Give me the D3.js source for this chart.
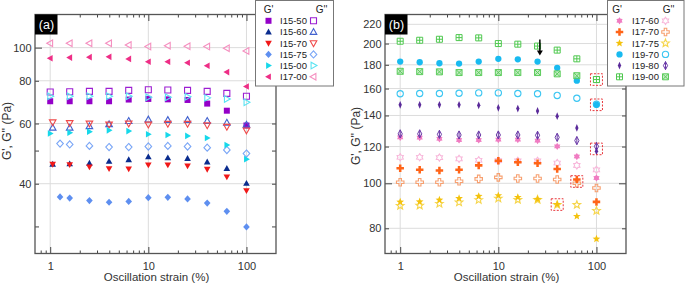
<!DOCTYPE html>
<html>
<head>
<meta charset="utf-8">
<script src="https://cdn.jsdelivr.net/npm/d3@7"></script>
<style>
  body { margin: 0; background: #fff; }
  svg { display: block; }
</style>
</head>
<body>
<div id="chart"></div>
<script>
"use strict";

// strain steps (%), 5 per decade
const strain = [1, 1.58, 2.51, 3.98, 6.31, 10, 15.8, 25.1, 39.8, 63.1, 100];
const strainI15_6070 = [1.06, 1.58, 2.51, 3.98, 6.31, 10, 15.8, 25.1, 39.8, 63.1, 100];
const strainI15_75 = [1.26, 1.58, 2.51, 3.98, 6.31, 10, 15.8, 25.1, 39.8, 63.1, 100];

// panel (a) moduli, Pa
const i15_50_G1 = [69.7, 69.7, 69.7, 69.7, 70.5, 70.8, 70.6, 70.3, 68.6, 65.4, 59.2];
const i15_50_G2 = [74.2, 74.3, 74.5, 74.5, 75.0, 75.3, 75.2, 75.0, 74.5, 73.5, 72.1];
const i15_60_G1 = [45.6, 45.7, 45.9, 46.5, 47.0, 47.9, 47.6, 47.4, 46.3, 44.3, 40.1];
const i15_60_G2 = [58.3, 58.3, 58.9, 59.7, 61.0, 61.6, 61.4, 61.4, 61.0, 60.3, 59.5];
const i15_70_G1 = [45.6, 45.5, 44.8, 44.3, 44.2, 45.4, 45.4, 45.1, 44.1, 41.9, 38.2];
const i15_70_G2 = [60.5, 60.2, 60.0, 59.6, 60.0, 59.6, 59.9, 59.9, 59.3, 58.7, 57.3];
const i15_75_G1 = [36.6, 36.3, 35.7, 35.3, 35.5, 36.4, 36.5, 36.1, 35.1, 33.2, 29.9];
const i15_75_G2 = [52.4, 52.1, 51.6, 51.2, 51.2, 51.4, 51.6, 51.4, 51.0, 50.2, 49.0];
const i15_00_G1 = [56.1, 56.4, 56.8, 57.3, 57.0, 55.8, 55.5, 55.2, 54.4, 51.9, 47.2];
const i15_00_G2 = [72.1, 72.1, 72.1, 72.1, 72.1, 71.6, 71.6, 71.8, 71.3, 70.8, 69.2];
const i17_00_G1 = [93.1, 93.5, 93.8, 94.0, 92.7, 90.9, 90.9, 90.3, 88.5, 84.8, 77.0];
const i17_00_G2 = [103, 103, 103, 103, 101.8, 100.7, 101.3, 100.9, 100.7, 99.6, 97.8];

// panel (b) moduli, Pa
const i17_60_G1 = [125.6, 125.4, 124.7, 124.0, 124.0, 124.2, 124.2, 123.6, 120.1, 114.2, 102.7];
const i17_60_G2 = [113.8, 113.8, 113.6, 112.9, 112.1, 111.9, 111.8, 111.8, 110.6, 109.3, 106.9];
const i17_70_G1 = [107.7, 107.0, 106.5, 107.0, 109.3, 111.9, 111.0, 110.4, 107.4, 101.9, 91.2];
const i17_70_G2 = [100.5, 100.5, 100.5, 101.0, 102.2, 103.0, 102.4, 102.4, 101.9, 100.0, 97.7];
const i17_75_G1 = [91.2, 91.3, 92.1, 92.8, 93.8, 94.1, 93.3, 92.4, 90.1, 84.9, 75.9];
const i17_75_G2 = [89.5, 89.6, 90.4, 91.0, 92.1, 92.8, 92.2, 92.2, 89.9, 89.9, 87.3];
const i19_70_G1 = [182.9, 182.3, 181.4, 181.1, 182.9, 185.4, 185.0, 182.9, 177.3, 166.4, 147.6];
const i19_70_G2 = [155.9, 156.1, 156.1, 156.3, 156.6, 156.6, 156.1, 155.9, 154.6, 152.5, 148.0];
const i19_80_G1 = [147.6, 147.6, 147.6, 147.6, 147.2, 145.4, 144.9, 143.2, 139.5, 131.6, 117.2];
const i19_80_G2 = [127.8, 127.8, 127.5, 127.1, 127.1, 127.1, 127.1, 126.9, 125.6, 123.6, 120.1];
const i19_00_G1 = [202.3, 203.3, 204.3, 206.0, 205.7, 200.0, 199.4, 197.5, 193.6, 185.4, 167.3];
const i19_00_G2 = [174.3, 174.0, 173.8, 173.2, 173.2, 173.2, 173.2, 173.2, 172.1, 170.5, 167.3];

// axis ticks
const xLabelTicks = [1, 10, 100];
const xMinorTicks = [0.8, 0.9, 2, 3, 4, 5, 6, 7, 8, 9, 20, 30, 40, 50, 60, 70, 80, 90];
const yLabelsA = [40, 60, 80, 100];
const yMinorA = [30, 40, 50, 60, 80];
const yMajorA = [100];
const yLabelsB = [80, 100, 120, 140, 160, 180, 200, 220];
const yMinorB = [80, 120, 140, 160, 180, 200, 220];
const yMajorB = [100];

// red dashed boxes in (b): [strain, modulus]
const highlightStrain = [100, 100, 100, 63.1, 39.8];
const highlightValue = [167.3, 147.6, 118.6, 100.9, 90.0];
// arrow in (b)
const arrowStrain = 26.5;
const arrowFrom = 204;
const arrowTo = 188.5;

const FONT = "'Liberation Sans', Arial, Helvetica, sans-serif";
const W = 685, H = 284;

const seriesA = [
  { name: "I15-50", x: strain, g1: i15_50_G1, g2: i15_50_G2, s1: "square", s2: "square", c1: "#9400c8", c2: "#9c1ed2" },
  { name: "I15-60", x: strainI15_6070, g1: i15_60_G1, g2: i15_60_G2, s1: "triUp", s2: "triUp", c1: "#0a2c8e", c2: "#4262cf" },
  { name: "I15-70", x: strainI15_6070, g1: i15_70_G1, g2: i15_70_G2, s1: "triDown", s2: "triDown", c1: "#f01818", c2: "#f04a4a" },
  { name: "I15-75", x: strainI15_75, g1: i15_75_G1, g2: i15_75_G2, s1: "diamond", s2: "diamond", c1: "#5e8ff0", c2: "#7aa6f6" },
  { name: "I15-00", x: strain, g1: i15_00_G1, g2: i15_00_G2, s1: "triRight", s2: "triRight", c1: "#16d8ea", c2: "#5ae3f2" },
  { name: "I17-00", x: strain, g1: i17_00_G1, g2: i17_00_G2, s1: "triLeft", s2: "triLeft", c1: "#ee2e86", c2: "#f590c0" },
];

const seriesB = [
  { name: "I17-60", x: strain, g1: i17_60_G1, g2: i17_60_G2, s1: "hexagram", s2: "hexagram", c1: "#f07cc2", c2: "#f8b6da" },
  { name: "I17-70", x: strain, g1: i17_70_G1, g2: i17_70_G2, s1: "plus", s2: "plus", c1: "#ff6418", c2: "#f7a070" },
  { name: "I17-75", x: strain, g1: i17_75_G1, g2: i17_75_G2, s1: "star", s2: "star", c1: "#f4c20d", c2: "#f6d54a" },
  { name: "I19-70", x: strain, g1: i19_70_G1, g2: i19_70_G2, s1: "circle", s2: "circle", c1: "#18baf0", c2: "#3cc6f2" },
  { name: "I19-80", x: strain, g1: i19_80_G1, g2: i19_80_G2, s1: "thinDiamond", s2: "thinDiamondLine", c1: "#5a2a9a", c2: "#6a3aa8" },
  { name: "I19-00", x: strain, g1: i19_00_G1, g2: i19_00_G2, s1: "boxPlus", s2: "boxCross", c1: "#4fc84f", c2: "#5ccc5c" },
];

function poly(points) {
  return "M" + points.map((p) => `${p[0].toFixed(2)},${p[1].toFixed(2)}`).join("L") + "Z";
}

function starPoints(n, outer, inner, rot) {
  const pts = [];
  for (let i = 0; i < n * 2; i++) {
    const r = i % 2 === 0 ? outer : inner;
    const a = rot + (Math.PI * i) / n;
    pts.push([r * Math.sin(a), -r * Math.cos(a)]);
  }
  return pts;
}

function markerPath(shape, r) {
  switch (shape) {
    case "square":
      return `M${-r},${-r}H${r}V${r}H${-r}Z`;
    case "triUp":
      return poly([[0, -r * 1.15], [r * 1.1, r * 0.8], [-r * 1.1, r * 0.8]]);
    case "triDown":
      return poly([[0, r * 1.15], [r * 1.1, -r * 0.8], [-r * 1.1, -r * 0.8]]);
    case "triLeft":
      return poly([[-r * 1.15, 0], [r * 0.8, -r * 1.1], [r * 0.8, r * 1.1]]);
    case "triRight":
      return poly([[r * 1.15, 0], [-r * 0.8, -r * 1.1], [-r * 0.8, r * 1.1]]);
    case "diamond":
      return poly([[0, -r * 1.2], [r * 1.1, 0], [0, r * 1.2], [-r * 1.1, 0]]);
    case "circle":
      return d3.symbol(d3.symbolCircle, Math.PI * r * r * 1.1)();
    case "plus": {
      const a = r * 0.42, b = r * 1.25;
      return poly([[-a, -b], [a, -b], [a, -a], [b, -a], [b, a], [a, a], [a, b], [-a, b], [-a, a], [-b, a], [-b, -a], [-a, -a]]);
    }
    case "star":
      return poly(starPoints(5, r * 1.35, r * 0.58, 0));
    case "hexagram":
      return poly(starPoints(6, r * 1.2, r * 0.75, 0));
    case "thinDiamond":
      return poly([[0, -r * 1.3], [r * 0.55, 0], [0, r * 1.3], [-r * 0.55, 0]]);
    case "thinDiamondLine":
      return poly([[0, -r * 1.35], [r * 0.7, 0], [0, r * 1.35], [-r * 0.7, 0]]) + `M0,${-r * 1.35}V${r * 1.35}`;
    case "boxPlus":
      return `M${-r},${-r}H${r}V${r}H${-r}Z M0,${-r}V${r} M${-r},0H${r}`;
    case "boxCross":
      return `M${-r},${-r}H${r}V${r}H${-r}Z M${-r},${-r}L${r},${r} M${r},${-r}L${-r},${r}`;
    default:
      return "";
  }
}

// filled markers for G', open markers for G''
function styleMarker(sel, shape, color, filled) {
  if (filled) {
    if (shape === "boxPlus") {
      sel.attr("fill", "#fff").attr("stroke", color).attr("stroke-width", 1);
    } else {
      sel.attr("fill", color).attr("stroke", "none");
    }
  } else if (shape === "boxCross") {
    sel.attr("fill", "rgba(92,204,92,0.35)").attr("stroke", color).attr("stroke-width", 1);
  } else if (shape === "thinDiamondLine") {
    sel.attr("fill", "none").attr("stroke", color).attr("stroke-width", 1);
  } else {
    sel.attr("fill", "none").attr("stroke", color).attr("stroke-width", 1.1);
  }
  return sel;
}

const svg = d3
  .select("#chart")
  .append("svg")
  .attr("width", W)
  .attr("height", H)
  .attr("viewBox", `0 0 ${W} ${H}`)
  .style("font-family", FONT);

const panels = [
  {
    tag: "(a)", left: 35, right: 276, yDomain: [25, 125], series: seriesA,
    yLabels: yLabelsA, yMinor: yMinorA, yMajor: yMajorA,
    titleX: 7, titleY: 131, legendX: 255.5, legendW: 78,
    legendCols: [268.5, 280, 313.5], headerCols: [268.5, 321.5],
  },
  {
    tag: "(b)", left: 385, right: 626, yDomain: [70.6, 231], series: seriesB,
    yLabels: yLabelsB, yMinor: yMinorB, yMajor: yMajorB,
    titleX: 356, titleY: 136, legendX: 607.5, legendW: 76.5,
    legendCols: [619.5, 632, 665.5], headerCols: [617, 668.5],
  },
];

const TOP = 14.5, BOTTOM = 253.5;

panels.forEach((p, pi) => {
  const x = d3.scaleLog().domain([0.7, 200]).range([p.left, p.right]);
  const y = d3.scaleLog().domain(p.yDomain).range([BOTTOM, TOP]);
  const g = svg.append("g");

  // grid
  g.append("g")
    .selectAll("line")
    .data(xLabelTicks)
    .join("line")
    .attr("x1", (d) => x(d))
    .attr("x2", (d) => x(d))
    .attr("y1", TOP)
    .attr("y2", BOTTOM)
    .attr("stroke", "#dcdcdc")
    .attr("stroke-width", 1);
  g.append("g")
    .selectAll("line")
    .data(p.yLabels)
    .join("line")
    .attr("x1", p.left)
    .attr("x2", p.right)
    .attr("y1", (d) => y(d))
    .attr("y2", (d) => y(d))
    .attr("stroke", "#dcdcdc")
    .attr("stroke-width", 1);

  const tickStyle = (sel) => {
    sel.select(".domain").remove();
    sel.selectAll(".tick line").attr("stroke", "#444").attr("stroke-width", 1);
  };

  // x ticks, bottom and top, pointing inward
  [["axisBottom", BOTTOM], ["axisTop", TOP]].forEach(([fn, yy]) => {
    g.append("g").attr("transform", `translate(0,${yy})`)
      .call(d3[fn](x).tickValues(xMinorTicks).tickSize(-3).tickFormat(""))
      .call(tickStyle);
    g.append("g").attr("transform", `translate(0,${yy})`)
      .call(d3[fn](x).tickValues(xLabelTicks).tickSize(-6.5).tickFormat(""))
      .call(tickStyle);
  });

  // y ticks, left and right, pointing inward
  [["axisLeft", p.left], ["axisRight", p.right]].forEach(([fn, xx]) => {
    g.append("g").attr("transform", `translate(${xx},0)`)
      .call(d3[fn](y).tickValues(p.yMinor).tickSize(-4).tickFormat(""))
      .call(tickStyle);
    g.append("g").attr("transform", `translate(${xx},0)`)
      .call(d3[fn](y).tickValues(p.yMajor).tickSize(-7).tickFormat(""))
      .call(tickStyle);
  });

  // tick labels
  const xLab = g.append("g").attr("transform", `translate(0,${BOTTOM})`)
    .call(d3.axisBottom(x).tickValues(xLabelTicks).tickSize(0).tickPadding(9).tickFormat(d3.format("d")));
  xLab.select(".domain").remove();
  xLab.attr("font-family", FONT).attr("font-size", 11);
  xLab.selectAll("text").attr("fill", "#333");

  const yLab = g.append("g").attr("transform", `translate(${p.left},0)`)
    .call(d3.axisLeft(y).tickValues(p.yLabels).tickSize(0).tickPadding(3.5).tickFormat(d3.format("d")));
  yLab.select(".domain").remove();
  yLab.attr("font-family", FONT).attr("font-size", 11);
  yLab.selectAll("text").attr("fill", "#333");

  // axis titles
  g.append("text")
    .attr("x", (p.left + p.right) / 2 + 1)
    .attr("y", 281)
    .attr("text-anchor", "middle")
    .attr("font-size", 11.5)
    .attr("fill", "#333")
    .text("Oscillation strain (%)");
  g.append("text")
    .attr("transform", `translate(${p.titleX},${p.titleY}) rotate(-90)`)
    .attr("dy", "0.35em")
    .attr("text-anchor", "middle")
    .attr("font-size", 12)
    .attr("fill", "#333")
    .text("G', G'' (Pa)");

  // data markers: G'' first, then G'
  const R = 3;
  const marks = g.append("g");
  p.series.forEach((s) => {
    [["g2", "s2", "c2", false], ["g1", "s1", "c1", true]].forEach(([vk, sk, ck, filled]) => {
      const pts = s[vk].map((v, i) => [s.x[i], v]);
      marks.append("g")
        .selectAll("path")
        .data(pts)
        .join("path")
        .attr("transform", (d) => `translate(${x(d[0])},${y(d[1])})`)
        .attr("d", markerPath(s[sk], R))
        .call((sel) => styleMarker(sel, s[sk], s[ck], filled));
    });
  });

  // frame
  g.append("rect")
    .attr("x", p.left)
    .attr("y", TOP)
    .attr("width", p.right - p.left)
    .attr("height", BOTTOM - TOP)
    .attr("fill", "none")
    .attr("stroke", "#555")
    .attr("stroke-width", 1.3);

  // panel tag
  g.append("rect")
    .attr("x", p.left)
    .attr("y", TOP)
    .attr("width", 22.5)
    .attr("height", 20)
    .attr("fill", "#000");
  g.append("text")
    .attr("x", p.left + 11.5)
    .attr("y", TOP + 14.5)
    .attr("text-anchor", "middle")
    .attr("font-size", 12.5)
    .attr("fill", "#fff")
    .text(p.tag);

  if (pi === 1) {
    // highlighted points
    g.append("g")
      .selectAll("rect")
      .data(highlightStrain.map((s, i) => [s, highlightValue[i]]))
      .join("rect")
      .attr("x", (d) => x(d[0]) - 6)
      .attr("y", (d) => y(d[1]) - 5.8)
      .attr("width", 12)
      .attr("height", 11.6)
      .attr("fill", "none")
      .attr("stroke", "#e8383d")
      .attr("stroke-width", 1)
      .attr("stroke-dasharray", "2,1.5");

    // arrow
    const ax = x(arrowStrain), ay0 = y(arrowFrom), ay1 = y(arrowTo);
    g.append("line")
      .attr("x1", ax).attr("x2", ax)
      .attr("y1", ay0).attr("y2", ay1 - 4)
      .attr("stroke", "#000")
      .attr("stroke-width", 1.5);
    g.append("path")
      .attr("d", poly([[ax - 3, ay1 - 5], [ax + 3, ay1 - 5], [ax, ay1]]))
      .attr("fill", "#000");
  }

  // legend
  const lg = svg.append("g");
  lg.append("rect")
    .attr("x", p.legendX)
    .attr("y", 0.5)
    .attr("width", p.legendW)
    .attr("height", 85.5)
    .attr("fill", "#fff")
    .attr("stroke", "#777")
    .attr("stroke-width", 1);
  lg.append("text")
    .attr("x", p.headerCols[0])
    .attr("y", 13)
    .attr("text-anchor", "middle")
    .attr("font-size", 10)
    .attr("fill", "#222")
    .text("G'");
  lg.append("text")
    .attr("x", p.headerCols[1])
    .attr("y", 13)
    .attr("text-anchor", "middle")
    .attr("font-size", 10)
    .attr("fill", "#222")
    .text("G''");
  p.series.forEach((s, i) => {
    const ly = 20.8 + i * 11.2;
    lg.append("path")
      .attr("transform", `translate(${p.legendCols[0]},${ly})`)
      .attr("d", markerPath(s.s1, R))
      .call((sel) => styleMarker(sel, s.s1, s.c1, true));
    lg.append("text")
      .attr("x", p.legendCols[1])
      .attr("y", ly)
      .attr("dy", "0.35em")
      .attr("font-size", 9.5)
      .attr("fill", "#222")
      .text(s.name);
    lg.append("path")
      .attr("transform", `translate(${p.legendCols[2]},${ly})`)
      .attr("d", markerPath(s.s2, R))
      .call((sel) => styleMarker(sel, s.s2, s.c2, false));
  });
});
</script>
</body>
</html>
